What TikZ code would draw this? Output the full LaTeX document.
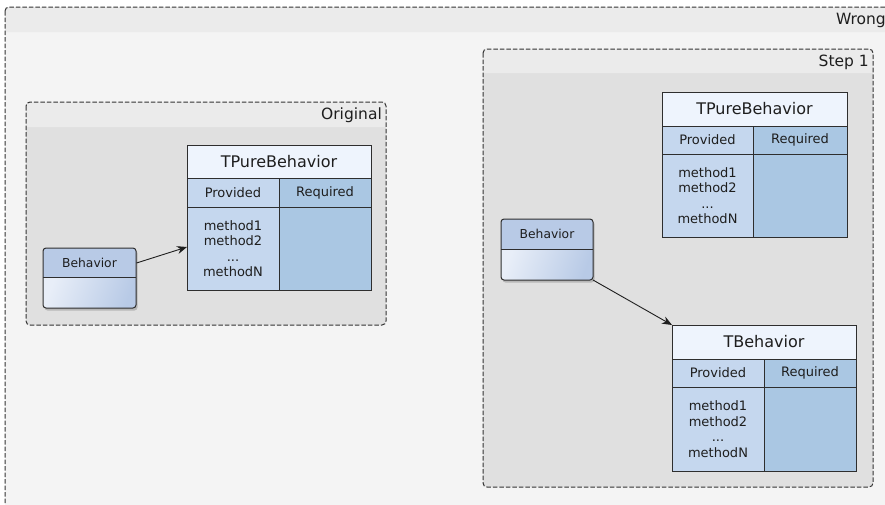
\documentclass[tikz,border=0pt]{standalone}
\usepackage{fontspec}
\setmainfont{DejaVu Sans}
\usetikzlibrary{arrows.meta,shadows}

\definecolor{framehead}{HTML}{EBEBEB}
\definecolor{outerbody}{HTML}{F4F4F4}
\definecolor{innerbody}{HTML}{E0E0E0}
\definecolor{framedash}{HTML}{333333}
\definecolor{titlefill}{HTML}{EEF4FD}
\definecolor{provfill}{HTML}{C5D7EE}
\definecolor{reqfill}{HTML}{AAC7E3}
\definecolor{behtop}{HTML}{B8CAE6}
\definecolor{behlight}{HTML}{E8EEF8}
\definecolor{edgecol}{HTML}{2E2E2E}
\definecolor{inkcol}{HTML}{1E1E1E}

\tikzset{
  cell/.style={draw=edgecol, line width=1pt, inner sep=0pt, outer sep=0pt,
    anchor=north west, text=inkcol, font=\fontsize{13}{15}\selectfont},
  titlecell/.style={cell, fill=titlefill, font=\fontsize{16}{18}\selectfont},
  provcell/.style={cell, fill=provfill},
  reqcell/.style={cell, fill=reqfill},
  methodcell/.style={provcell, align=center, font=\fontsize{13}{15.5}\selectfont},
  framelabel/.style={anchor=east, text=inkcol, inner sep=0pt, font=\fontsize{15.5}{18}\selectfont},
  dashframe/.style={draw=framedash, line width=1pt, dash pattern=on 4.5pt off 2pt, rounded corners=4pt},
  link/.style={draw=inkcol, line width=0.9pt, -{Stealth[length=10pt,width=8pt]}},
  behlabel/.style={inner sep=0pt, text=inkcol, font=\fontsize{12.3}{14}\selectfont}
}

% trait table: prefix, x, y, total width, left column width,
% title height, header height, body height, title
\newcommand\traitbox[9]{%
  \node[titlecell, minimum width=#4pt, minimum height=#6pt] (#1-title) at (#2,#3) {#9};
  \node[provcell, minimum width=#5pt, minimum height=#7pt] (#1-prov) at (#1-title.south west) {Provided};
  \node[reqcell, minimum width=#4pt-#5pt, minimum height=#7pt] (#1-req) at (#1-prov.north east) {Required};
  \node[methodcell, minimum width=#5pt, minimum height=#8pt] (#1-pbody) at (#1-prov.south west)
    {method1\\method2\\...\\methodN};
  \node[reqcell, minimum width=#4pt-#5pt, minimum height=#8pt] (#1-rbody) at (#1-req.south west) {};
  \draw[edgecol, line width=1pt] (#1-title.north west) rectangle (#1-rbody.south east);
}

% class box: prefix, x, y, width, top height, bottom height
\newcommand\classbox[6]{%
  \coordinate (#1-nw) at (#2,#3);
  \coordinate (#1-se) at (#2+#4,#3+#5+#6);
  \fill[black, opacity=0.18, rounded corners=3pt] (#2+1.5,#3+2) rectangle (#2+#4+1.5,#3+#5+#6+2.5);
  \fill[behtop, rounded corners=3pt] (#2,#3+#5) -- (#2,#3) -- (#2+#4,#3) [sharp corners] -- (#2+#4,#3+#5) -- cycle;
  \shade[left color=behlight, right color=behtop, shading angle=70, rounded corners=3pt]
    (#2,#3+#5) -- (#2,#3+#5+#6) -- (#2+#4,#3+#5+#6) [sharp corners] -- (#2+#4,#3+#5) -- cycle;
  \draw[edgecol, line width=1pt, rounded corners=3pt] (#1-nw) rectangle (#1-se);
  \draw[edgecol, line width=1pt] (#2,#3+#5) -- (#2+#4,#3+#5);
  \node[behlabel] (#1) at (#2+#4/2,#3+#5/2) {Behavior};
  \coordinate (#1-base) at (#2+#4/2,#3+#5+#6);
}

\begin{document}
\begin{tikzpicture}[x=1pt,y=-1pt]
\clip (0,0) rectangle (885,504);
\useasboundingbox (0,0) rectangle (885,504);

% outer frame "Wrong"
\fill[outerbody, rounded corners=4pt] (5,7) rectangle (905,530);
\fill[framehead] (5,32) [rounded corners=4pt] -- (5,7) -- (905,7) [sharp corners] -- (905,32) -- cycle;
\draw[dashframe] (5,7) rectangle (905,530);
\node[framelabel] (wronglbl) at (886,20) {Wrong};

% frame "Original"
\fill[innerbody, rounded corners=4pt] (26,102) rectangle (386,325);
\fill[framehead] (26,127) [rounded corners=4pt] -- (26,102) -- (386,102) [sharp corners] -- (386,127) -- cycle;
\draw[dashframe] (26,102) rectangle (386,325);
\node[framelabel] (origlbl) at (382,115) {Original};

% frame "Step 1"
\fill[innerbody, rounded corners=4pt] (483,49) rectangle (873,487);
\fill[framehead] (483,73) [rounded corners=4pt] -- (483,49) -- (873,49) [sharp corners] -- (873,73) -- cycle;
\draw[dashframe] (483,49) rectangle (873,487);
\node[framelabel] (steplbl) at (869,62) {Step 1};

% Original contents
\traitbox{opure}{187}{145}{184}{92}{33}{29}{83}{TPureBehavior}
\classbox{obeh}{43}{248}{93}{29}{31}
\draw[link] (136.5,263) -- (opure-pbody.west |- 0,247);

% Step 1 contents
\traitbox{spure}{662}{92}{185}{91}{34}{28}{83}{TPureBehavior}
\traitbox{tbeh}{672}{325}{184}{92}{34}{28}{84}{TBehavior}
\classbox{sbeh}{501}{219}{92}{30}{31}
\draw[link] (sbeh-se) -- (tbeh-title.north west);
\end{tikzpicture}
\end{document}
